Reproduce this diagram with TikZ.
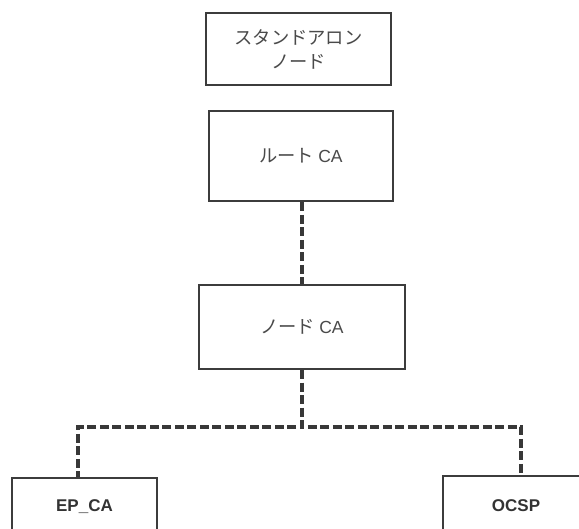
\documentclass[tikz,border=0pt]{standalone}
\usepackage{fontspec}
\setmainfont{Liberation Sans}
\newfontfamily\jp{Noto Sans CJK JP}
\definecolor{boxline}{HTML}{3C3C3C}
\definecolor{txt}{HTML}{4A4A4A}
\definecolor{linkcol}{HTML}{383838}
\newcommand\latintext[1]{{\fontspec{Liberation Sans}\fontsize{17.5}{20}\selectfont #1}}
\tikzset{
  box/.style={draw=boxline, line width=2.6pt, fill=white, rectangle,
    inner sep=0pt, text=txt, align=center},
  jplabel/.style={font=\jp\fontsize{18.3}{24}\selectfont},
  leafbox/.style={box, font=\bfseries\fontsize{17}{20}\selectfont, text=black!80},
  link/.style={draw=linkcol, line width=3.2pt, dash pattern=on 9pt off 3.5pt}
}
\begin{document}
\begin{tikzpicture}[x=1pt,y=-1pt]
  \fill[white] (0,0) rectangle (579,529);
  \clip (0,0) rectangle (579,529);

  % standalone node, on its own
  \node[box, jplabel, minimum width=185pt, minimum height=72pt]
    (standalone) at (298.5,49) {スタンドアロン\\ノード};

  % CA hierarchy
  \node[box, jplabel, minimum width=184pt, minimum height=90pt]
    (root) at (301,156) {ルート \latintext{CA}};
  \node[box, jplabel, minimum width=206pt, minimum height=84pt]
    (nodeca) at (302,327) {ノード \latintext{CA}};

  \node[leafbox, minimum width=145pt, minimum height=58pt]
    (ep) at (84.5,507) {EP\_CA};
  \node[leafbox, minimum width=146pt, minimum height=60pt]
    (ocsp) at (516,506) {OCSP};

  % branch points of the tree
  \coordinate (jl) at (78,427);
  \coordinate (jr) at (521,427);

  % connectors
  \draw[link] (root.south -| nodeca.north) -- (nodeca.north);
  \draw[link] (nodeca.south) |- (jl) -- (jl |- ep.north);
  \draw[link] (nodeca.south) |- (jr) -- (jr |- ocsp.north);
\end{tikzpicture}
\end{document}
